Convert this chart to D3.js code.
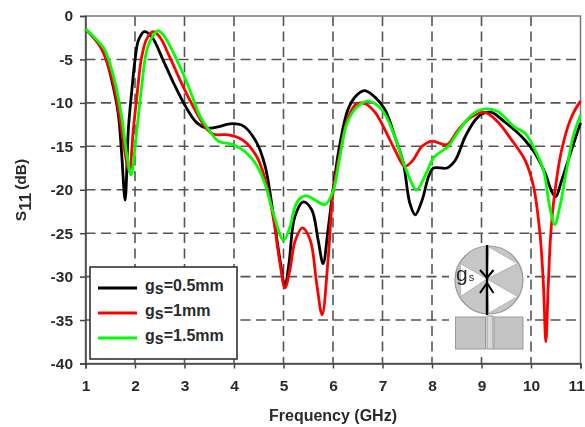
<!DOCTYPE html>
<html><head><meta charset="utf-8">
<script src="https://cdn.jsdelivr.net/npm/d3@7/dist/d3.min.js"></script>
<style>html,body{margin:0;padding:0;background:#fff}svg{display:block;filter:blur(0.5px)}
text{font-family:"Liberation Sans",Arial,sans-serif;font-weight:bold;fill:#2a2a2a}</style>
</head><body><svg id="c" width="585" height="427"></svg>
<script>
const xTicks=[1,2,3,4,5,6,7,8,9,10,11];
const yTicks=[0,-5,-10,-15,-20,-25,-30,-35,-40];
const legendLabels=["0.5mm","1mm","1.5mm"];
const seriesColors=["#000000","#ff0000","#00ff00"];
const black=[[1,-1.5],[1.15,-2.4],[1.3,-3.5],[1.39,-4.5],[1.53,-7.4],[1.66,-11.2],[1.73,-15.8],[1.8,-21.2],[1.865,-13.1],[1.93,-8.9],[2,-5.1],[2.07,-2.8],[2.19,-1.8],[2.34,-2.4],[2.57,-5.1],[2.77,-7.6],[3.04,-10.6],[3.25,-12.3],[3.45,-12.9],[3.65,-12.8],[3.96,-12.4],[4.2,-12.7],[4.46,-14.6],[4.63,-17.3],[4.79,-22.7],[4.93,-28.1],[5.03,-31.1],[5.11,-28.5],[5.23,-23.1],[5.4,-21.4],[5.57,-22.3],[5.7,-25.8],[5.8,-28.5],[5.9,-24.6],[6,-20],[6.14,-14.7],[6.3,-10.8],[6.45,-9.3],[6.63,-8.6],[6.8,-9.1],[7.05,-10.8],[7.25,-13.9],[7.42,-16.9],[7.55,-21.5],[7.66,-22.9],[7.8,-21.2],[7.93,-18.5],[8.03,-17.5],[8.3,-17.5],[8.47,-16.6],[8.67,-13.9],[8.87,-12],[9,-11.3],[9.2,-11.1],[9.47,-12.2],[9.74,-13.5],[9.88,-14.3],[10.08,-15.8],[10.28,-18],[10.42,-20.2],[10.5,-20.8],[10.62,-18.9],[10.82,-15.4],[11,-12.3]];
const red=[[1,-1.5],[1.15,-2.4],[1.3,-3.5],[1.39,-4.6],[1.56,-7.7],[1.7,-12],[1.8,-15.8],[1.885,-17.9],[1.965,-13.1],[2.03,-9.7],[2.135,-4.7],[2.24,-2.6],[2.37,-1.8],[2.5,-2.4],[2.7,-4.7],[2.97,-8.1],[3.25,-11.2],[3.45,-13],[3.58,-13.6],[3.92,-13.7],[4.18,-14.3],[4.46,-16.2],[4.63,-18.8],[4.79,-23.1],[4.93,-28.5],[5.03,-31.3],[5.13,-29.2],[5.23,-26],[5.38,-24.4],[5.54,-25.8],[5.67,-30.8],[5.78,-34.4],[5.9,-28.1],[6,-20.4],[6.14,-15.8],[6.31,-11.6],[6.48,-10.1],[6.65,-10.1],[6.85,-11.1],[7.05,-13.1],[7.25,-15.4],[7.45,-17.3],[7.6,-16.7],[7.8,-15],[8,-14.4],[8.3,-14.8],[8.53,-13.1],[8.8,-11.6],[9.07,-11.1],[9.33,-12.2],[9.6,-14.2],[9.88,-16.6],[10.05,-19.6],[10.18,-25],[10.25,-30.8],[10.3,-37.5],[10.35,-30.8],[10.4,-25],[10.47,-20.8],[10.62,-15.4],[10.82,-11.6],[11,-9.8]];
const green=[[1,-1.5],[1.15,-2.3],[1.3,-3.2],[1.39,-3.9],[1.6,-7.7],[1.73,-11.6],[1.83,-15.8],[1.92,-18.3],[2.03,-13.5],[2.135,-8.1],[2.24,-3.9],[2.37,-2.2],[2.47,-1.7],[2.6,-2.4],[2.84,-5],[3.1,-8.4],[3.31,-11.5],[3.48,-13],[3.68,-14.4],[3.98,-14.8],[4.22,-15.6],[4.46,-17.2],[4.63,-19.4],[4.79,-22.6],[5,-25.8],[5.13,-24.3],[5.23,-22],[5.33,-21],[5.47,-20.7],[5.64,-21.2],[5.84,-21.7],[6,-20.2],[6.14,-16.2],[6.28,-12.4],[6.48,-10.5],[6.71,-9.8],[6.99,-10.8],[7.25,-13.9],[7.45,-17.3],[7.69,-20],[7.85,-18.5],[8.05,-16.2],[8.33,-15],[8.53,-13.3],[8.8,-11.4],[9.07,-10.7],[9.33,-11],[9.67,-12.8],[9.88,-13.5],[10.08,-15.4],[10.25,-17.7],[10.38,-22],[10.48,-24],[10.58,-22],[10.72,-17.7],[10.85,-13.9],[11,-11.4]];
const series=[black,red,green];

const svg=d3.select("#c");
const x=d3.scaleLinear().domain([1,11]).range([85.5,580.5]);
const y=d3.scaleLinear().domain([0,-40]).range([16,363.5]);
const grid="#555";
svg.append("g").selectAll("line").data(xTicks.slice(1,-1)).join("line")
 .attr("x1",d=>x(d)).attr("x2",d=>x(d)).attr("y1",y(0)).attr("y2",y(-40))
 .attr("stroke",grid).attr("stroke-width",1.6).attr("stroke-dasharray","10 5.5");
svg.append("g").selectAll("line").data(yTicks.slice(1,-1)).join("line")
 .attr("x1",x(1)).attr("x2",x(11)).attr("y1",d=>y(d)).attr("y2",d=>y(d))
 .attr("stroke",grid).attr("stroke-width",1.6).attr("stroke-dasharray","10 5.5");
svg.append("rect").attr("x",x(1)).attr("y",y(0)).attr("width",x(11)-x(1)).attr("height",y(-40)-y(0))
 .attr("fill","none").attr("stroke","#777").attr("stroke-width",1.5);
const ax=svg.append("g").attr("transform",`translate(0,${y(-40)})`).call(d3.axisBottom(x).tickValues(xTicks).tickFormat(d3.format("d")).tickSize(5).tickPadding(11));
const ay=svg.append("g").attr("transform",`translate(${x(1)},0)`).call(d3.axisLeft(y).tickValues(yTicks).tickFormat(d=>String(d)).tickSize(5.5).tickPadding(7));
[ax,ay].forEach(a=>{a.selectAll("path").attr("stroke","#444").attr("stroke-width",1.5);
 a.selectAll("line").attr("stroke","#444").attr("stroke-width",1.5);
 a.selectAll("text").style("font-size","15.5px").attr("fill","#2a2a2a");});
// keep the last tick label inside the page
ax.selectAll("g.tick").filter(d=>d===11).select("text").attr("text-anchor","end").attr("x",4);
// inset sits on a white patch that hides the grid behind it
const ins=svg.append("g");
ins.append("rect").attr("x",449).attr("y",243).attr("width",78).attr("height",111).attr("fill","#fff");
const cx=489,cy=280,r=34,ax0=487,ay0=279;
ins.append("circle").attr("cx",cx).attr("cy",cy).attr("r",r).attr("fill","#c6c6c6").attr("stroke","#999").attr("stroke-width",1.2);
[[-90,-30],[30,90],[150,210]].forEach(([a,b])=>{
 const p=t=>[cx+(r-1)*Math.cos(t*Math.PI/180),cy+(r-1)*Math.sin(t*Math.PI/180)];
 ins.append("path").attr("d",`M${ax0},${ay0}L${p(a)}L${p(b)}Z`).attr("fill","#fff").attr("stroke","#aaa").attr("stroke-width",0.8);
});
ins.append("rect").attr("x",455.5).attr("y",317).attr("width",30).attr("height",32).attr("fill","#c4c4c4").attr("stroke","#999");
ins.append("rect").attr("x",494).attr("y",317).attr("width",29).attr("height",32).attr("fill","#c4c4c4").attr("stroke","#999");
ins.append("rect").attr("x",487).attr("y",316).attr("width",6).attr("height",33).attr("fill","#d8d8d8").attr("stroke","#999");
ins.append("line").attr("x1",487).attr("x2",487).attr("y1",245).attr("y2",315).attr("stroke","#000").attr("stroke-width",2.4);
ins.append("path").attr("d","M480,270L487,278L493.5,270M480,293L487,283L493.5,293").attr("fill","none").attr("stroke","#000").attr("stroke-width",2);
const gs=ins.append("text").attr("x",456).attr("y",281).style("font-size","21px").style("font-weight","normal");
gs.append("tspan").text("g");
gs.append("tspan").attr("dx",1).style("font-size","11px").text("s");
const line=d3.line().x(d=>x(d[0])).y(d=>y(d[1])).curve(d3.curveCatmullRom.alpha(0.5));
series.forEach((s,i)=>svg.append("path").attr("d",line(s)).attr("fill","none")
 .attr("stroke",seriesColors[i]).attr("stroke-width",2.8).attr("stroke-linejoin","round"));
svg.append("text").attr("x",333).attr("y",421).attr("text-anchor","middle").style("font-size","16px").text("Frequency (GHz)");
const yt=svg.append("text").attr("transform","translate(26,190) rotate(-90)").attr("text-anchor","middle").style("font-size","15.5px");
yt.append("tspan").text("S");
yt.append("tspan").attr("dy",5).style("font-size","17px").text("11");
yt.append("tspan").attr("dy",-5).attr("dx",3).text("(dB)");
const lg=svg.append("g");
lg.append("rect").attr("x",90).attr("y",267).attr("width",147).attr("height",92).attr("fill","#fff").attr("stroke","#333").attr("stroke-width",1.6);
legendLabels.forEach((t,i)=>{
 const ly=288+i*25;
 lg.append("line").attr("x1",98).attr("x2",137).attr("y1",ly).attr("y2",ly).attr("stroke",seriesColors[i]).attr("stroke-width",2.8);
 const tx=lg.append("text").attr("x",145).attr("y",ly+3).style("font-size","16px");
 tx.append("tspan").text("g");
 tx.append("tspan").attr("dy",3).text("s");
 tx.append("tspan").attr("dy",-3).text("="+t);
});
</script></body></html>
